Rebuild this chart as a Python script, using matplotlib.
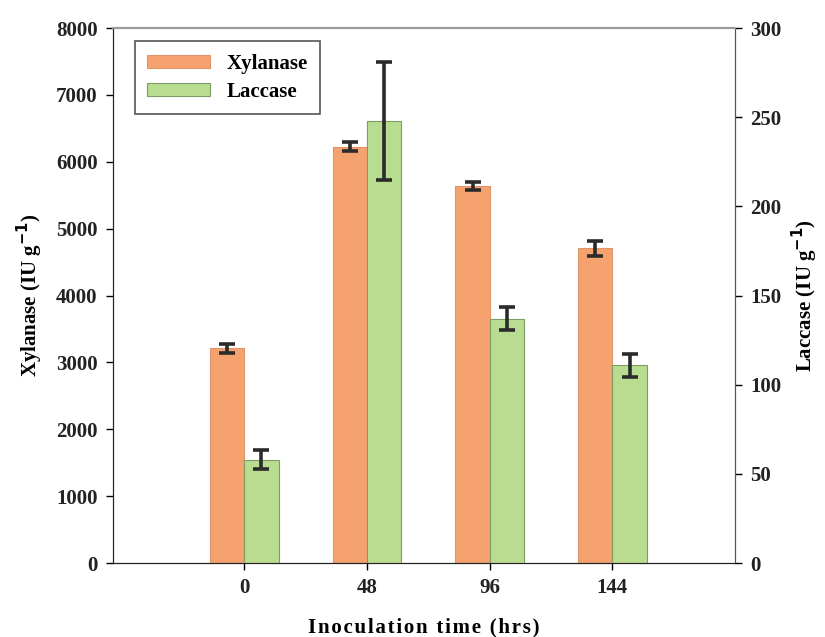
import matplotlib as mpl
mpl.use('Agg')
import matplotlib.pyplot as plt
import numpy as np

# inoculation time points (hrs)
times = ['0', '48', '96', '144']

# xylanase activity (IU/g), left axis
xylanase = [3210, 6225, 5635, 4705]
xylanase_err = [70, 70, 60, 110]

# laccase activity (IU/g), right axis
laccase = [58, 248, 137, 111]
laccase_err = [5.5, 33, 6.5, 6.5]

plt.rcParams['font.family'] = ['Liberation Serif', 'DejaVu Serif']
plt.rcParams['font.weight'] = 'bold'

fig = plt.figure(figsize=(8.25, 6.37), dpi=100)
ax = fig.add_axes([0.137, 0.116, 0.754, 0.840])
ax2 = ax.twinx()

x = np.arange(len(times))
w = 0.28
orange = '#F6A26E'
green = '#B9DD90'
ekw = dict(ecolor='#2b2b2b', elinewidth=2.6, capsize=6, capthick=2.6)

b1 = ax.bar(x - w / 2, xylanase, w, color=orange, edgecolor='#e0946a',
            linewidth=0.8, label='Xylanase')
ax.errorbar(x - w / 2, xylanase, yerr=xylanase_err, fmt='none', **ekw)
b2 = ax2.bar(x + w / 2, laccase, w, color=green, edgecolor='#7f9a62',
             linewidth=0.8, label='Laccase')
ax2.errorbar(x + w / 2, laccase, yerr=laccase_err, fmt='none', **ekw)

ax.set_xlim(-1.07, 4.0)
ax.set_ylim(0, 8000)
ax2.set_ylim(0, 300)
ax.set_yticks(np.arange(0, 8001, 1000))
ax2.set_yticks(np.arange(0, 301, 50))
ax.set_xticks(x)
ax.set_xticklabels(times)

ax.tick_params(axis='both', direction='out', length=5, width=1,
               labelsize=15, pad=6)
ax2.tick_params(axis='y', direction='out', length=5, width=1,
                labelsize=15, pad=6)
for lab in ax.get_xticklabels() + ax.get_yticklabels() + ax2.get_yticklabels():
    lab.set_fontweight('bold')
    lab.set_color('#222222')

ax.set_ylabel('Xylanase (IU g$^{\\mathbf{-1}}$)', fontsize=15,
              fontweight='bold', labelpad=8)
ax2.set_ylabel('Laccase (IU g$^{\\mathbf{-1}}$)', fontsize=15,
               fontweight='bold', labelpad=6)
# spaced-out axis title
xlabel = '\u200a'.join('Inoculation time (hrs)')
ax.set_xlabel(xlabel, fontsize=15, fontweight='bold', labelpad=14)

for a in (ax, ax2):
    a.spines['top'].set_color('#9a9a9a')
    a.spines['top'].set_linewidth(1.5)
    a.spines['right'].set_color('#555555')
    a.spines['left'].set_color('#222222')
    a.spines['bottom'].set_color('#222222')

lgd = ax.legend([b1, b2], ['Xylanase', 'Laccase'], loc='upper left',
                bbox_to_anchor=(0.018, 0.995), fancybox=False, framealpha=1,
                edgecolor='#555555', prop={'size': 15, 'weight': 'bold'},
                handlelength=3.0, handleheight=0.6, borderpad=0.6,
                labelspacing=0.4)
lgd.get_frame().set_linewidth(1.2)

plt.savefig('out.png', dpi=100)
